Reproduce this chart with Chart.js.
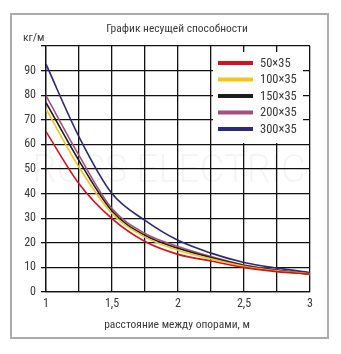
<!DOCTYPE html>
<html>
<head>
<meta charset="utf-8">
<script src="https://cdn.jsdelivr.net/npm/chart.js@4.4.1/dist/chart.umd.min.js"></script>
<style>
    body { margin: 0; background: #fff; }
    #frame {
        position: absolute; left: 10px; top: 13px;
        width: 315px; height: 322px;
        border: 2px solid #ababab;
    }
    #chart { position: absolute; left: 0; top: 0; }
</style>
</head>
<body>
<div id="frame"></div>
<canvas id="chart" width="341" height="354"></canvas>
<script>
const distances = [1, 1.25, 1.5, 1.75, 2, 2.25, 2.5, 2.75, 3];

const s50x35  = [65.2, 44.0, 29.8, 20.5, 15.3, 12.6, 10.0, 8.3, 7.3];
const s100x35 = [74.4, 50.7, 31.9, 22.3, 17.0, 13.5, 10.5, 8.6, 7.4];
const s150x35 = [77.0, 53.4, 32.9, 23.0, 17.8, 14.0, 10.8, 8.8, 7.4];
const s200x35 = [79.8, 55.5, 33.9, 23.8, 18.5, 14.4, 11.0, 9.0, 7.0];
const s300x35 = [92.6, 63.1, 40.0, 29.1, 21.0, 15.8, 12.0, 9.7, 7.9];

const seriesNames  = ["50×35", "100×35", "150×35", "200×35", "300×35"];
const seriesColors = ["#d4121f", "#f5c51a", "#1c1c1c", "#a4507e", "#2c2a78"];

const chartTitle = "График несущей способности";
const yTitle     = "кг/м";
const xTitle     = "расстояние между опорами, м";

const FONT = "'Roboto Condensed', 'Liberation Sans', sans-serif";
const TEXT = "#3a3a3a";

const ctx = document.getElementById("chart");

function makeSet(name, values, color) {
    return {
        label: name,
        data: values.map((v, i) => ({ x: distances[i], y: v })),
        borderColor: color,
        backgroundColor: color,
        borderWidth: 1.6,
        pointRadius: 0,
        cubicInterpolationMode: "monotone",
        fill: false,
    };
}

// legend box, titles and watermark drawn straight on the canvas
const extras = {
    id: "extras",
    beforeDatasetsDraw(chart) {
        const c = chart.ctx;
        c.save();
        c.fillStyle = "rgba(0,0,0,0.045)";
        c.font = "300 38px Roboto, sans-serif";
        c.textAlign = "center";
        c.textBaseline = "middle";
        c.fillText("ROSS ELECTRIC", 169, 172);
        c.restore();
    },
    afterDraw(chart) {
        const c = chart.ctx;
        c.save();
        c.fillStyle = TEXT;
        c.textBaseline = "middle";

        c.font = `11.5px ${FONT}`;
        c.textAlign = "center";
        c.fillText(chartTitle, 177, 29);
        c.fillText(xTitle, 177, 325);
        c.textAlign = "left";
        c.font = `11.5px ${FONT}`;
        c.fillText(yTitle, 23, 38);

        // legend
        c.fillStyle = "#fff";
        c.fillRect(213, 52, 90, 91);
        c.font = `12.5px ${FONT}`;
        seriesNames.forEach((name, i) => {
            const y = 63 + i * 16.5;
            c.fillStyle = seriesColors[i];
            c.fillRect(218, y - 2, 35, 4);
            c.fillStyle = TEXT;
            c.fillText(name, 260, y + 0.5);
        });
        c.restore();
    }
};

new Chart(ctx, {
    type: "line",
    data: {
        datasets: [
            makeSet(seriesNames[0], s50x35,  seriesColors[0]),
            makeSet(seriesNames[1], s100x35, seriesColors[1]),
            makeSet(seriesNames[2], s150x35, seriesColors[2]),
            makeSet(seriesNames[3], s200x35, seriesColors[3]),
            makeSet(seriesNames[4], s300x35, seriesColors[4]),
        ]
    },
    options: {
        responsive: false,
        animation: false,
        layout: { padding: { left: 0, top: 46, right: 31, bottom: 12 } },
        plugins: { legend: { display: false }, tooltip: { enabled: false } },
        scales: {
            x: {
                type: "linear",
                min: 1, max: 3,
                afterFit: (s) => { s.height = 50; },
                grid: { color: "#111", lineWidth: 1.3, drawTicks: false },
                border: { color: "#111", width: 1.3 },
                ticks: {
                    stepSize: 0.25,
                    padding: 5,
                    color: TEXT,
                    font: { family: FONT, size: 12 },
                    maxRotation: 0,
                    autoSkip: false,
                    callback: (v) => (v * 2) % 1 === 0 ? String(v).replace(".", ",") : "",
                }
            },
            y: {
                min: 0, max: 100,
                afterFit: (s) => { s.width = 46; },
                grid: { color: "#111", lineWidth: 1.3, drawTicks: true, tickLength: 5 },
                border: { color: "#111", width: 1.3 },
                ticks: {
                    stepSize: 10,
                    padding: 5,
                    color: TEXT,
                    font: { family: FONT, size: 12 },
                    callback: (v) => v === 100 ? "" : v,
                }
            }
        }
    },
    plugins: [extras]
});
</script>
</body>
</html>
